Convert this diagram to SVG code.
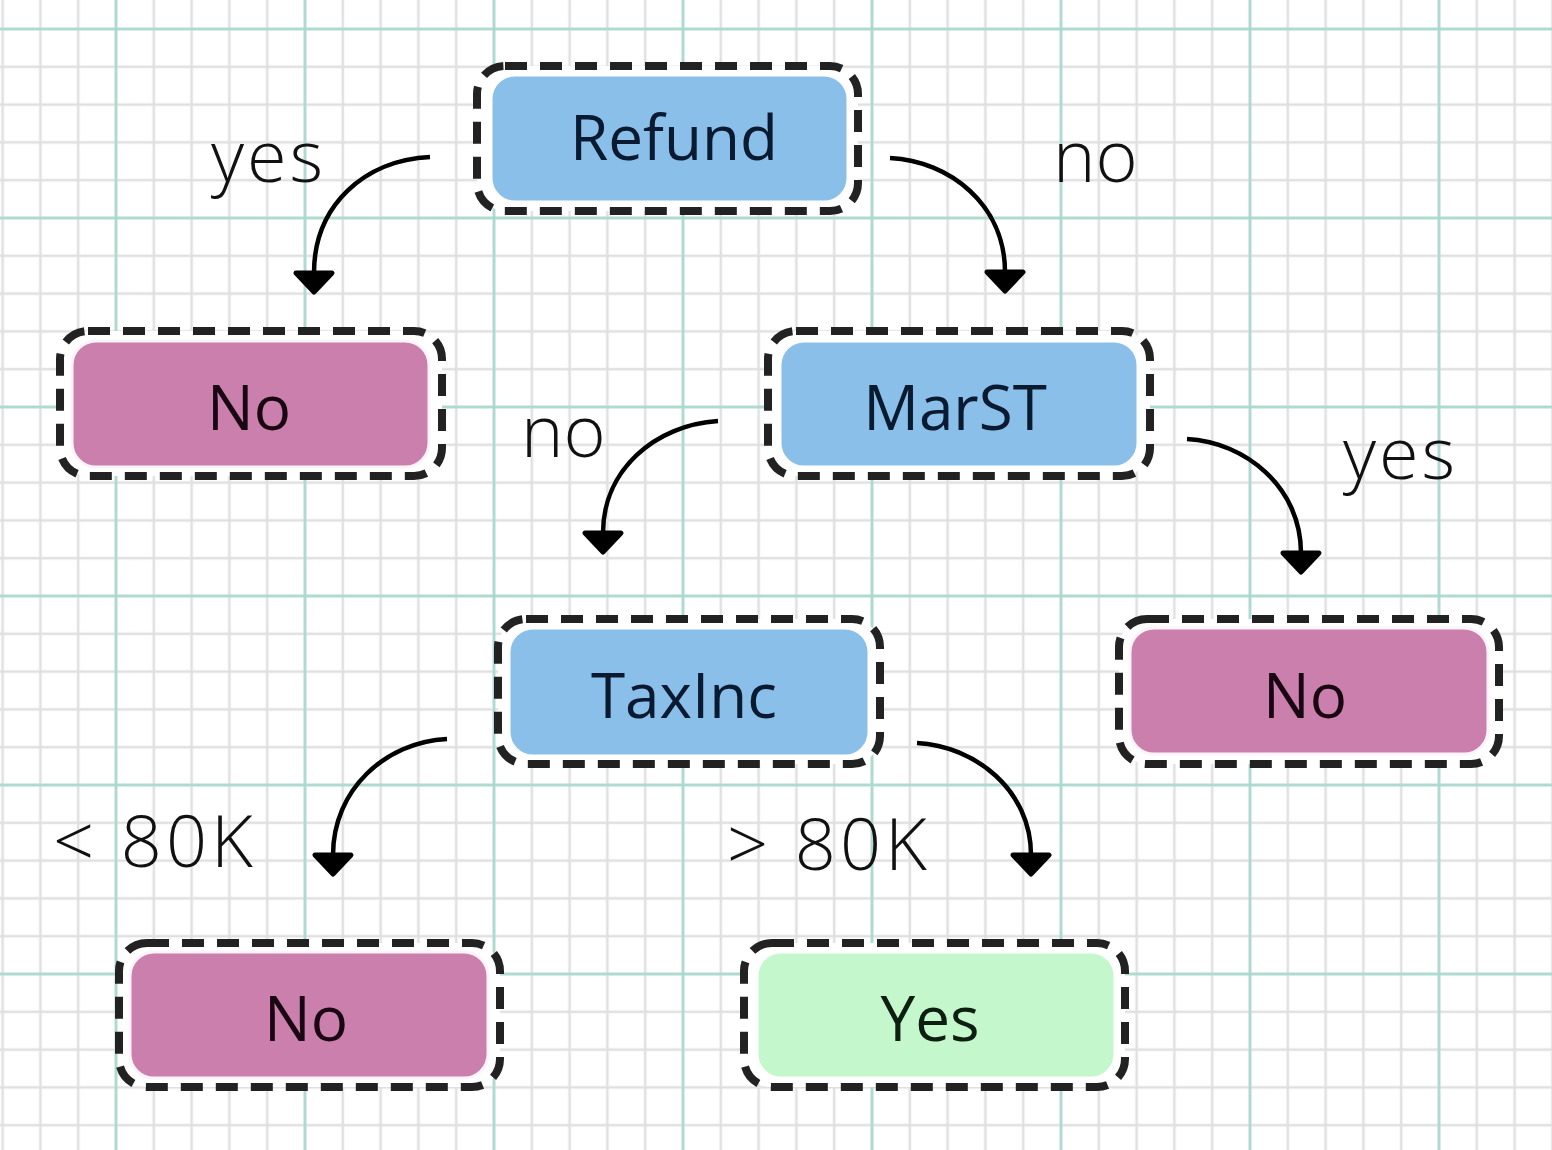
<svg xmlns="http://www.w3.org/2000/svg" width="1552" height="1150" viewBox="0 0 1552 1150">
<defs>
<pattern id="minor" patternUnits="userSpaceOnUse" x="-16.3" y="10.1" width="37.8" height="37.8">
<path d="M18.9 0 V37.8 M0 18.9 H37.8" stroke="#e0e0e0" stroke-width="2.5" fill="none"/>
</pattern>
<pattern id="major" patternUnits="userSpaceOnUse" x="21.5" y="-65.5" width="189" height="189">
<path d="M94.5 0 V189 M0 94.5 H189" stroke="#a6dacf" stroke-width="2.5" fill="none"/>
</pattern>
<marker id="arrow" markerUnits="userSpaceOnUse" viewBox="-4 -24 32 48" refX="0" refY="0" markerWidth="32" markerHeight="48" orient="auto">
<path d="M0,-18 L0,18 L19,0 Z" fill="#000" stroke="#000" stroke-width="5" stroke-linejoin="round"/>
</marker>
<style>
.frame{fill:#fff;stroke:#222;stroke-width:8;stroke-dasharray:22 13}
.blue{fill:#8abfea;stroke:#fff;stroke-width:3}
.pink{fill:#cb7fac;stroke:#fdf4f9;stroke-width:3}
.green{fill:#c4f7cb;stroke:#fff;stroke-width:3}
.ntext{font-family:"Open Sans","Noto Sans","Liberation Sans",sans-serif;font-size:62px;text-anchor:middle}
.lbl{font-family:"Open Sans","Noto Sans","Liberation Sans",sans-serif;font-size:72px;font-weight:300;fill:#111}
.conn{fill:none;stroke:#000;stroke-width:4.5;marker-end:url(#arrow)}
</style>
</defs>
<rect x="0" y="0" width="1552" height="1150" fill="#fff"/>
<rect x="0" y="0" width="1552" height="1150" fill="url(#minor)"/>
<rect x="0" y="0" width="1552" height="1150" fill="url(#major)"/>

<g id="connectors">
<path class="conn" d="M430,157 C365,160 314,205 314,273"/>
<path class="conn" d="M890,158 C950,161 1005,205 1005,272"/>
<path class="conn" d="M718,421 C655,425 603,470 603,533"/>
<path class="conn" d="M1187,439 C1245,442 1301,487 1301,553"/>
<path class="conn" d="M447,739 C385,742 333,790 333,855"/>
<path class="conn" d="M917,743 C975,746 1031,790 1031,855"/>
</g>

<g id="labels">
<text class="lbl" x="211" y="182" letter-spacing="3">yes</text>
<text class="lbl" x="1053" y="182">no</text>
<text class="lbl" x="521" y="457">no</text>
<text class="lbl" x="1343" y="479" letter-spacing="3">yes</text>
<text class="lbl" x="53" y="867" letter-spacing="4">&lt; 80K</text>
<text class="lbl" x="727" y="870" letter-spacing="4">&gt; 80K</text>
</g>

<g id="node-refund">
<rect class="frame" x="477" y="66" width="381" height="145" rx="28"/>
<rect class="blue" x="491" y="75" width="357" height="127" rx="24"/>
<text class="ntext" x="674" y="160" fill="#0a1a30">Refund</text>
</g>

<g id="node-no-1">
<rect class="frame" x="60" y="331" width="382" height="145" rx="28"/>
<rect class="pink" x="72" y="341" width="357" height="126" rx="24"/>
<text class="ntext" x="249" y="430" fill="#1a0612">No</text>
</g>

<g id="node-marst">
<rect class="frame" x="768" y="331" width="382" height="145" rx="28"/>
<rect class="blue" x="780" y="341" width="358" height="126" rx="24"/>
<text class="ntext" x="955" y="430" fill="#0a1a30">MarST</text>
</g>

<g id="node-taxinc">
<rect class="frame" x="498" y="619" width="382" height="145" rx="28"/>
<rect class="blue" x="509" y="628" width="360" height="128" rx="24"/>
<text class="ntext" x="684" y="718" fill="#0a1a30">TaxInc</text>
</g>

<g id="node-no-2">
<rect class="frame" x="1119" y="619" width="380" height="145" rx="28"/>
<rect class="pink" x="1130" y="628" width="358" height="126" rx="24"/>
<text class="ntext" x="1305" y="718" fill="#1a0612">No</text>
</g>

<g id="node-no-3">
<rect class="frame" x="119" y="943" width="381" height="144" rx="28"/>
<rect class="pink" x="130" y="952" width="358" height="126" rx="24"/>
<text class="ntext" x="306" y="1041" fill="#1a0612">No</text>
</g>

<g id="node-yes">
<rect class="frame" x="744" y="943" width="381" height="144" rx="28"/>
<rect class="green" x="757" y="952" width="358" height="126" rx="24"/>
<text class="ntext" x="930" y="1041" fill="#0c1f10">Yes</text>
</g>
</svg>
